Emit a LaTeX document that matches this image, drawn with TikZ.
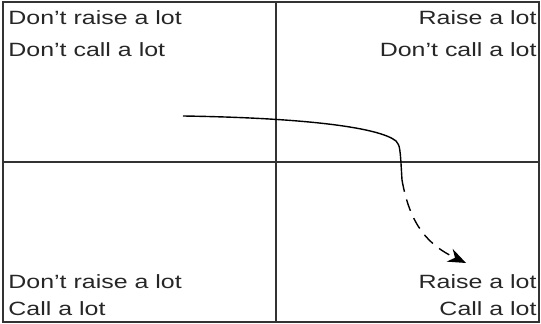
\documentclass[tikz,border=0pt]{standalone}
\usepackage{fontspec}
\setmainfont{Liberation Sans}[FakeStretch=1.3]
\usetikzlibrary{arrows.meta}
\tikzset{
  px/.style={x=0.5pt, y=-0.5pt},
  frame/.style={black!80, line width=0.7pt},
  label/.style={inner sep=0pt, font=\fontsize{9.6}{11}\selectfont, text=black!85},
  lbl/.style={label, anchor=base west},
  lbr/.style={label, anchor=base east},
  path/.style={black, line width=0.7pt},
  dpath/.style={black, line width=0.7pt, dash pattern=on 6pt off 4pt, -{Stealth[length=9pt, width=7pt]}},
}
\begin{document}
\begin{tikzpicture}[px]
  \useasboundingbox (0,0) rectangle (541,324);
  % quadrants
  \draw[frame] (3,2) rectangle (539,322);
  \draw[frame] (276,2) -- (276,322);
  \draw[frame] (3,162) -- (539,162);
  % corner texts
  \node[lbl] (tl1) at (8,25) {Don’t raise a lot};
  \node[lbl] (tl2) at (8,57) {Don’t call a lot};
  \node[lbr] (tr1) at (537,25) {Raise a lot};
  \node[lbr] (tr2) at (537,57) {Don’t call a lot};
  \node[lbl] (bl1) at (8,289) {Don’t raise a lot};
  \node[lbl] (bl2) at (8,316) {Call a lot};
  \node[lbr] (br1) at (537,289) {Raise a lot};
  \node[lbr] (br2) at (537,316) {Call a lot};
  % path of play
  \coordinate (start) at (183,116);
  \coordinate (bend) at (396,141);
  \coordinate (drop) at (402,180);
  \coordinate (tip) at (466,263);
  \draw[path] (start) .. controls (310,118) and (380,128) .. (bend)
    .. controls (400,146) .. (drop);
  \draw[dpath] (drop) .. controls (410,225) and (428,245) .. (tip);
\end{tikzpicture}
\end{document}
